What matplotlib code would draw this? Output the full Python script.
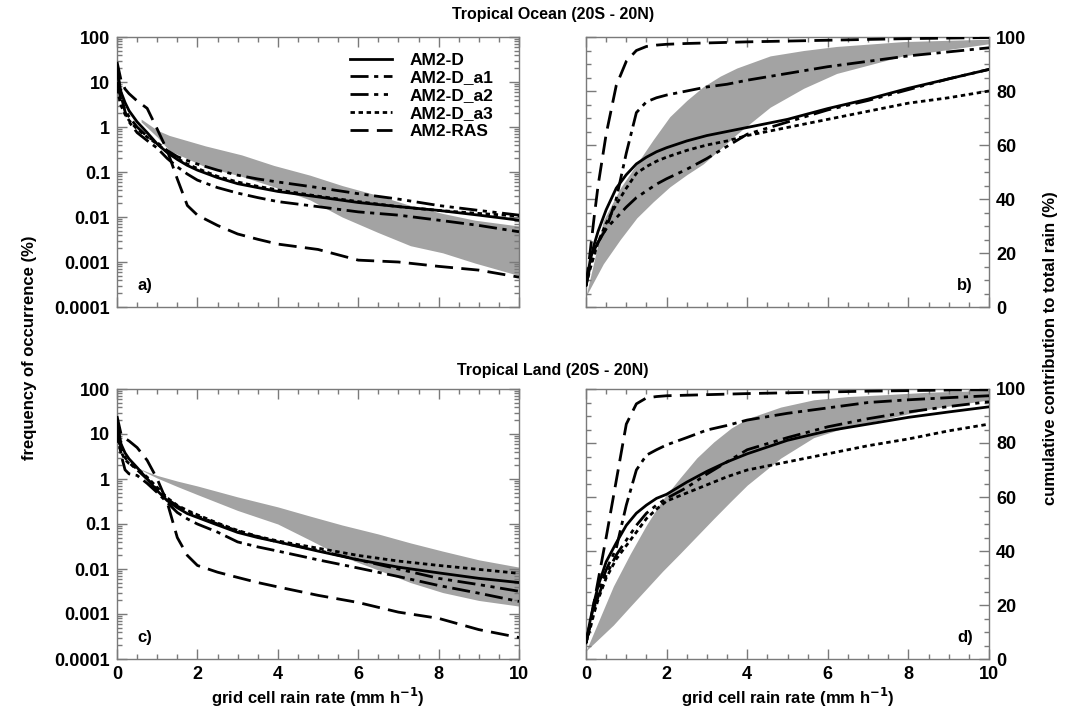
import numpy as np
import matplotlib
matplotlib.use("Agg")
import matplotlib.pyplot as plt
from matplotlib.ticker import FixedLocator, MultipleLocator, LogLocator, NullFormatter

plt.rcParams['font.family'] = ['Liberation Sans Narrow', 'Liberation Sans', 'DejaVu Sans']
plt.rcParams['font.weight'] = 'bold'

# common rain-rate grid for the model curves (mm/h)
rate = [0, 0.1, 0.2, 0.3, 0.5, 0.75, 1.0, 1.25, 1.5, 1.75, 2, 2.5, 3, 3.5, 4, 5, 6, 7, 8, 9, 10]

# a) frequency of occurrence, tropical ocean (%)
a_D   = [17, 6, 3.5, 2.3, 1.3, 0.75, 0.42, 0.27, 0.19, 0.14, 0.11, 0.075, 0.055, 0.045, 0.037, 0.028, 0.021, 0.017, 0.014, 0.011, 0.0085]
a_a1  = [22, 5, 2.2, 1.3, 0.75, 0.5, 0.34, 0.2, 0.13, 0.09, 0.066, 0.045, 0.034, 0.027, 0.022, 0.017, 0.013, 0.011, 0.0085, 0.0065, 0.0047]
a_a2  = [10, 4, 2.4, 1.7, 1.0, 0.62, 0.45, 0.3, 0.22, 0.18, 0.15, 0.11, 0.085, 0.07, 0.06, 0.045, 0.033, 0.025, 0.018, 0.014, 0.011]
a_a3  = [7, 3, 1.9, 1.4, 0.9, 0.6, 0.42, 0.28, 0.2, 0.15, 0.12, 0.08, 0.06, 0.048, 0.04, 0.029, 0.022, 0.017, 0.014, 0.012, 0.0105]
a_RAS = [28, 11, 7, 5.5, 3.8, 2.6, 0.9, 0.3, 0.07, 0.018, 0.011, 0.0065, 0.0042, 0.0032, 0.0025, 0.0019, 0.0011, 0.001, 0.0008, 0.00066, 0.00046]
a_band_x  = [0.6, 1.0, 1.3, 2.2, 3.1, 3.9, 4.8, 5.6, 6.5, 7.3, 8.1, 8.9, 10]
a_band_up = [1.5, 0.85, 0.65, 0.38, 0.24, 0.14, 0.085, 0.05, 0.03, 0.018, 0.012, 0.0085, 0.0063]
a_band_lo = [1.3, 0.6, 0.3, 0.13, 0.08, 0.047, 0.024, 0.01, 0.0045, 0.0023, 0.0016, 0.00095, 0.0005]

# b) cumulative contribution, tropical ocean (%)
b_D   = [8, 17, 23, 28, 36, 44, 49, 53, 55.5, 57.5, 59, 61.5, 63.5, 65, 66.5, 69.5, 73.5, 77, 81, 84.5, 88]
b_a1  = [8, 16, 21, 24, 29, 40, 57, 72, 76, 77.5, 78.5, 80, 81.5, 82.5, 84, 86.5, 89, 91, 93, 94.5, 96]
b_a2  = [8, 15, 20, 24, 29, 33, 37, 40.5, 43, 45.5, 47.5, 51, 55, 59.5, 64, 68.5, 73, 76.5, 80.5, 84.5, 88]
b_a3  = [8, 14, 19, 24, 31, 38, 44, 49.5, 52, 54, 55.5, 58, 60, 61.5, 63.5, 66.5, 69.5, 72.5, 75.5, 77.5, 80]
b_RAS = [8, 20, 33, 45, 64, 82, 91, 95, 96.5, 97, 97.3, 97.6, 97.8, 98, 98.2, 98.5, 98.8, 99.1, 99.4, 99.6, 99.8]
b_band_x  = [0, 0.43, 0.85, 1.26, 1.67, 2.08, 2.5, 2.91, 3.33, 3.74, 4.57, 5.4, 6.22, 7.87, 10]
b_band_up = [4, 32, 44, 53, 62, 70.5, 76.5, 81.6, 85.5, 88.5, 93, 95, 96.5, 98.3, 99.2]
b_band_lo = [4, 16, 25, 33, 39, 44.5, 49, 53, 58.5, 64, 74, 81, 86.5, 93, 97.5]

# c) frequency of occurrence, tropical land (%)
c_D   = [20, 6, 3.8, 2.8, 1.8, 1.0, 0.55, 0.33, 0.23, 0.17, 0.14, 0.095, 0.065, 0.05, 0.04, 0.025, 0.016, 0.011, 0.0082, 0.0062, 0.005]
c_a1  = [15, 3.5, 1.6, 1.3, 1.2, 0.8, 0.5, 0.3, 0.18, 0.13, 0.1, 0.066, 0.04, 0.031, 0.025, 0.016, 0.0105, 0.0068, 0.0043, 0.0029, 0.0019]
c_a2  = [10, 5, 3, 2.3, 1.6, 1.0, 0.6, 0.36, 0.25, 0.19, 0.15, 0.1, 0.07, 0.052, 0.04, 0.026, 0.016, 0.01, 0.0062, 0.0045, 0.0032]
c_a3  = [8, 4, 2.7, 2.2, 1.7, 1.1, 0.65, 0.38, 0.26, 0.2, 0.16, 0.105, 0.072, 0.053, 0.042, 0.029, 0.02, 0.015, 0.012, 0.0098, 0.008]
c_RAS = [25, 10, 8, 7, 5, 2.6, 1.0, 0.3, 0.05, 0.02, 0.012, 0.0085, 0.0065, 0.005, 0.004, 0.0026, 0.0018, 0.0011, 0.0008, 0.00045, 0.0003]
c_band_x  = [0.5, 0.75, 1.0, 1.5, 2.0, 3.0, 4.0, 4.8, 5.6, 6.5, 7.3, 8.1, 9.0, 10]
c_band_up = [1.8, 1.45, 1.2, 0.9, 0.7, 0.4, 0.24, 0.15, 0.095, 0.06, 0.038, 0.025, 0.016, 0.011]
c_band_lo = [1.8, 1.35, 1.05, 0.68, 0.45, 0.2, 0.1, 0.044, 0.019, 0.0095, 0.005, 0.003, 0.002, 0.0015]

# d) cumulative contribution, tropical land (%)
d_D   = [6, 14, 21, 27, 36, 43, 49.5, 54, 57, 59.5, 61, 65.5, 69.5, 73, 76, 81, 84.5, 87, 89.5, 91.5, 93.4]
d_a1  = [6, 13, 19, 25, 33, 41, 57, 70, 75.5, 77.5, 79.3, 82, 84.8, 86.5, 88.5, 91, 93, 95, 96, 96.8, 97.5]
d_a2  = [6, 12, 18, 23, 31, 38.5, 44, 49.5, 54, 57, 59.5, 63.5, 68.5, 73, 77.5, 82, 86, 89, 91.5, 93.5, 95.3]
d_a3  = [6, 11, 17, 22, 30, 37, 42, 47, 52, 55.5, 58.5, 61.5, 64.5, 67.5, 70, 73, 76, 79, 81.5, 84.5, 87]
d_RAS = [6, 13, 21, 29, 45, 66, 87, 94.5, 96.7, 97.2, 97.5, 97.7, 97.9, 98.1, 98.3, 98.6, 98.9, 99.2, 99.4, 99.6, 99.7]
d_band_x  = [0, 0.68, 1.1, 1.5, 1.9, 2.33, 2.75, 3.17, 3.6, 4.0, 4.83, 5.65, 6.5, 7.3, 8.5, 10]
d_band_up = [3, 27, 39, 49.6, 59, 67, 74.5, 80.4, 85.5, 89, 93.3, 96, 97.2, 97.8, 98.8, 99.5]
d_band_lo = [3, 12.6, 19.5, 26, 32.5, 39, 45.5, 52, 58.5, 64.4, 74.4, 82, 86, 88.5, 92.5, 96]

names = ['AM2-D', 'AM2-D_a1', 'AM2-D_a2', 'AM2-D_a3', 'AM2-RAS']
dashes = [(None, None), (6.5, 2, 1.5, 2), (6.5, 2, 1.5, 2, 1.5, 2), (1.6, 1.3), (6.5, 3)]

gris = '#7a7a7a'
bande = '#a3a3a3'

fig = plt.figure(figsize=(10.66, 7.13), dpi=100)
W, H = 1066, 713
def boite(x0, y0, x1, y1):
    return [x0 / W, 1 - y1 / H, (x1 - x0) / W, (y1 - y0) / H]

ax_a = fig.add_axes(boite(117, 37, 519, 307))
ax_b = fig.add_axes(boite(586, 37, 989, 307))
ax_c = fig.add_axes(boite(117, 389, 519, 659))
ax_d = fig.add_axes(boite(586, 389, 989, 659))

def trace(ax, series, bx, bup, blo):
    ax.fill_between(bx, blo, bup, color=bande, lw=0, zorder=1)
    for y, nom, d in zip(series, names, dashes):
        l, = ax.plot(rate, y, color='k', lw=2.0, label=nom, zorder=3)
        if d[0] is not None:
            l.set_dashes(d)

def habille(ax, log, label_right):
    ax.set_xlim(0, 10)
    ax.xaxis.set_major_locator(MultipleLocator(2))
    ax.xaxis.set_minor_locator(MultipleLocator(0.5))
    if log:
        ax.set_yscale('log')
        ax.set_ylim(1e-4, 100)
        vals = [1e-4, 1e-3, 1e-2, 1e-1, 1, 10, 100]
        ax.yaxis.set_major_locator(FixedLocator(vals))
        ax.set_yticklabels(['0.0001', '0.001', '0.01', '0.1', '1', '10', '100'])
        ax.yaxis.set_minor_locator(LogLocator(base=10, subs=np.arange(2, 10)))
        ax.yaxis.set_minor_formatter(NullFormatter())
    else:
        ax.set_ylim(0, 100)
        ax.yaxis.set_major_locator(MultipleLocator(20))
        ax.yaxis.set_minor_locator(MultipleLocator(5))
    ax.tick_params(which='both', direction='in', top=True, right=True, left=True,
                   color=gris, width=1, labelsize=13, pad=5)
    ax.tick_params(which='major', length=7)
    ax.tick_params(which='minor', length=3.5)
    if label_right:
        ax.tick_params(labelleft=False, labelright=True)
    for s in ax.spines.values():
        s.set_color(gris)
        s.set_linewidth(1)
    for t in ax.get_xticklabels() + ax.get_yticklabels():
        t.set_fontweight('bold')

trace(ax_a, [a_D, a_a1, a_a2, a_a3, a_RAS], a_band_x, a_band_up, a_band_lo)
trace(ax_b, [b_D, b_a1, b_a2, b_a3, b_RAS], b_band_x, b_band_up, b_band_lo)
trace(ax_c, [c_D, c_a1, c_a2, c_a3, c_RAS], c_band_x, c_band_up, c_band_lo)
trace(ax_d, [d_D, d_a1, d_a2, d_a3, d_RAS], d_band_x, d_band_up, d_band_lo)

habille(ax_a, True, False)
habille(ax_b, False, True)
habille(ax_c, True, False)
habille(ax_d, False, True)
ax_a.tick_params(labelbottom=False)
ax_b.tick_params(labelbottom=False)

for ax, lettre, xx, ha in [(ax_a, 'a)', 0.05, 'left'), (ax_b, 'b)', 0.96, 'right'),
                           (ax_c, 'c)', 0.05, 'left'), (ax_d, 'd)', 0.96, 'right')]:
    ax.text(xx, 0.08, lettre, transform=ax.transAxes, ha=ha, va='center',
            fontsize=12, fontweight='bold')

for ax in (ax_c, ax_d):
    ax.set_xlabel('grid cell rain rate (mm h$^{\\mathbf{-1}}$)', fontsize=12,
                  fontweight='bold', labelpad=2)

leg = ax_a.legend(loc='upper right', bbox_to_anchor=(0.975, 1.0), frameon=False,
                  fontsize=12.5, handlelength=2.4, handletextpad=1.0, labelspacing=0.15,
                  borderpad=0.4)
for t in leg.get_texts():
    t.set_fontweight('bold')

fig.text(553 / W, 1 - 14 / H, 'Tropical Ocean (20S - 20N)', ha='center', va='center',
         fontsize=11.5, fontweight='bold')
fig.text(553 / W, 1 - 371 / H, 'Tropical Land (20S - 20N)', ha='center', va='center',
         fontsize=11.5, fontweight='bold')
fig.text(30 / W, 1 - 348 / H, 'frequency of occurrence (%)', rotation=90, ha='center',
         va='center', fontsize=12, fontweight='bold')
fig.text(1050 / W, 1 - 348 / H, 'cumulative contribution to total rain (%)', rotation=90,
         ha='center', va='center', fontsize=12, fontweight='bold')

fig.savefig('out.png', dpi=100)
